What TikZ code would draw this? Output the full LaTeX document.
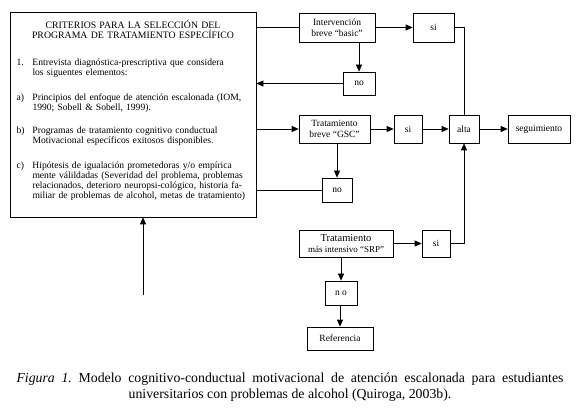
\documentclass[tikz,border=0pt]{standalone}
\usepackage{fontspec}
\setmainfont{Liberation Serif}
\usetikzlibrary{arrows.meta}
\usetikzlibrary{positioning}

\newcommand{\etiq}[1]{\makebox[16pt][l]{#1}}
\newcommand{\lin}[1]{\makebox[217pt][s]{#1}}
\newcommand{\sangria}{\hspace*{16pt}}
\newcommand{\titulo}[1]{\makebox[233pt][c]{\fontsize{9.8}{10}\selectfont #1}}

\tikzset{
  caja/.style={draw, rectangle, inner sep=1pt, align=center,
    font=\fontsize{9.5}{11}\selectfont},
  flecha/.style={-{Triangle[length=7pt,width=6pt]}},
}

\begin{document}
\frenchspacing
\begin{tikzpicture}[x=1pt, y=-1pt, line width=0.7pt]
        \useasboundingbox (0,0) rectangle (580,419);

        % caja de criterios
        \node[draw, rectangle, text width=233pt, inner xsep=6.5pt,
              minimum height=205pt, align=left,
              font=\fontsize{9.6}{10}\selectfont] (criterios) at (133,114.5) {%
          \titulo{CRITERIOS PARA LA SELECCIÓN DEL}\\
          \titulo{PROGRAMA DE TRATAMIENTO ESPECÍFICO}\\[17pt]
          \etiq{1.}\lin{Entrevista diagnóstica-prescriptiva que considera}\\
          \sangria los siguentes elementos:\\[15pt]
          \etiq{a)}\lin{Principios del enfoque de atención escalonada (IOM,}\\
          \sangria 1990; Sobell \& Sobell, 1999).\\[13pt]
          \etiq{b)}\lin{Programas de tratamiento cognitivo conductual}\\
          \sangria Motivacional específicos exitosos disponibles.\\[15pt]
          \etiq{c)}\lin{Hipótesis de igualación prometedoras y/o empírica}\\
          \sangria\lin{mente válildadas (Severidad del problema, problemas}\\
          \sangria\lin{relacionados, deterioro neuropsi-cológico, historia fa-}\\
          \sangria\lin{miliar de problemas de alcohol, metas de tratamiento)}\rule[-9.8pt]{0pt}{9.8pt}};

        % niveles de tratamiento
        \node[caja, minimum width=76pt, minimum height=29pt] (basic) at (337,27.5)  {Intervención\\breve “basic”};
        \node[caja, minimum width=41pt, minimum height=29pt] (siA)   at (433.5,27.5) {si};
        \node[caja, minimum width=32pt, minimum height=23pt] (noA)   at (359,83.5)  {no};
        \node[caja, minimum width=71pt, minimum height=28pt] (gsc)   at (334.5,129) {Tratamiento\\breve “GSC”};
        \node[caja, minimum width=28pt, minimum height=28pt] (siB)   at (408,129)   {si};
        \node[caja, minimum width=30pt, minimum height=28pt] (alta)  at (464,129)   {alta};
        \node[caja, minimum width=62pt, minimum height=28pt] (seguimiento) at (539,129) {seguimiento};
        \node[caja, minimum width=30pt, minimum height=24pt] (noB)   at (337,190)   {no};
        \node[caja, minimum width=94pt, minimum height=27pt] (srp)   at (346,243.5)
              {{\fontsize{10.5}{11}\selectfont Tratamiento}\\{\fontsize{9}{10}\selectfont más intensivo “SRP”}};
        \node[caja, minimum width=28pt, minimum height=27pt] (siC)   at (436,243.5) {si};
        \node[caja, minimum width=32pt, minimum height=24pt] (noC)   at (341,293)   {n o};
        \node[caja, minimum width=66pt, minimum height=23pt] (referencia) at (340,338.5) {Referencia};
        \coordinate (inicio) at (143,295);

        \draw (criterios.east |- basic) -- (basic.west);
        \draw[flecha] (basic) -- (siA);
        \draw[flecha] (noA.north |- basic.south) -- (noA.north);
        \draw[flecha] (noA.west) -- (criterios.east |- noA);
        \draw (siA.east) -| (alta.north);

        \draw[flecha] (criterios.east |- gsc) -- (gsc.west);
        \draw[flecha] (gsc) -- (siB);
        \draw[flecha] (siB) -- (alta);
        \draw[flecha] (alta) -- (seguimiento);
        \draw[flecha] (noB.north |- gsc.south) -- (noB.north);
        \draw (noB.west) -- (criterios.east |- noB);

        \draw[flecha] (srp) -- (siC);
        \draw[flecha] (siC.east) -| (alta.south);
        \draw[flecha] (noC.north |- srp.south) -- (noC.north);
        \draw[flecha] (noC.south -| referencia.north) -- (referencia.north);
        \draw[flecha] (inicio) -- (criterios.south -| inicio);

        % pie de figura
        \node[align=center, font=\fontsize{13.8}{16}\selectfont] (pie) at (290,387) {%
          \makebox[547pt][s]{\textit{Figura 1.} Modelo cognitivo-conductual motivacional de atención escalonada para estudiantes}\\
          universitarios con problemas de alcohol (Quiroga, 2003b).};
    \end{tikzpicture}
\end{document}
